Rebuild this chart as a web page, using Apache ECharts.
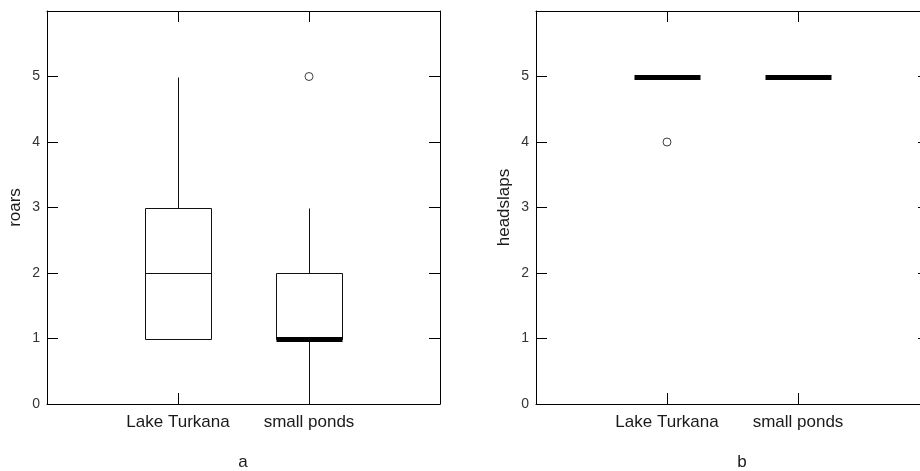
<!DOCTYPE html>
<html>
<head>
<meta charset="utf-8">
<title>roars and headslaps</title>
<script src="https://cdn.jsdelivr.net/npm/echarts@6/dist/echarts.min.js"></script>
<style>
  html, body { margin: 0; padding: 0; background: #fff; overflow: hidden; }
  /* canvas is a little wider than the page so the right frame of panel b falls just past the edge */
  #chart { width: 940px; height: 471px; }
</style>
</head>
<body>
<div id="chart"></div>
<script>
// Groups shown on the horizontal axis of both panels
const categories = ['Lake Turkana', 'small ponds'];

// Panel a: roars (five-number summaries per group)
const roarsMin    = [1, 0];
const roarsQ1     = [1, 1];
const roarsMedian = [2, 1];
const roarsQ3     = [3, 2];
const roarsMax    = [5, 3];
const roarsOutliers = [[], [5]];

// Panel b: headslaps
const headslapsMin    = [5, 5];
const headslapsQ1     = [5, 5];
const headslapsMedian = [5, 5];
const headslapsQ3     = [5, 5];
const headslapsMax    = [5, 5];
const headslapsOutliers = [[4], []];

// Vertical axis ticks
const yTicks = [0, 1, 2, 3, 4, 5];

const FONT = '"Liberation Sans", Arial, sans-serif';
const INK = '#000';
const BOX_HALF = 0.25;   // half box width, in category units

function summaryRows(mins, q1s, meds, q3s, maxs) {
  return categories.map((c, i) => [i + 1, mins[i], q1s[i], meds[i], q3s[i], maxs[i]]);
}
function outlierPoints(outs) {
  const pts = [];
  outs.forEach((list, i) => list.forEach(v => pts.push([i + 1, v])));
  return pts;
}

// Box without whisker caps; the median is drawn heavy when it sits on a hinge
function renderBox(params, api) {
  const x = api.value(0);
  const lo = api.value(1), q1 = api.value(2), med = api.value(3), q3 = api.value(4), hi = api.value(5);
  const px = v => Math.round(v) + 0.5;
  const cx = px(api.coord([x, 0])[0]);
  const xl = px(api.coord([x - BOX_HALF, 0])[0]);
  const xr = px(api.coord([x + BOX_HALF, 0])[0]);
  const y = v => px(api.coord([x, v])[1]);
  const stroke = { stroke: '#111', lineWidth: 1, fill: null };
  const children = [];
  if (hi > q3) {
    children.push({ type: 'line', shape: { x1: cx, y1: y(q3), x2: cx, y2: y(hi) }, style: stroke });
  }
  if (lo < q1) {
    children.push({ type: 'line', shape: { x1: cx, y1: y(lo), x2: cx, y2: y(q1) }, style: stroke });
  }
  if (q3 > q1) {
    children.push({ type: 'rect', shape: { x: xl, y: y(q3), width: xr - xl, height: y(q1) - y(q3) },
      style: { stroke: '#111', lineWidth: 1, fill: '#fff' } });
  }
  const heavy = (med === q1 || med === q3);
  children.push({ type: 'line', shape: { x1: xl, y1: y(med), x2: xr, y2: y(med) },
    style: { stroke: heavy ? '#000' : '#111', lineWidth: heavy ? 5 : 1 } });
  return { type: 'group', children };
}

function xAxes(gridIndex) {
  const base = {
    type: 'value', gridIndex, min: 0, max: 3, interval: 1,
    splitLine: { show: false },
    axisLine: { show: true, onZero: false, lineStyle: { color: INK, width: 1 } },
    axisTick: { show: true, inside: true, length: 11, lineStyle: { color: INK, width: 1 } }
  };
  return [
    Object.assign({}, base, {
      position: 'bottom',
      axisLabel: {
        show: true, margin: 10, color: '#1a1a1a', fontSize: 17, fontFamily: FONT,
        formatter: v => (v >= 1 && v <= categories.length) ? categories[v - 1] : ''
      }
    }),
    Object.assign({}, base, { position: 'top', axisLabel: { show: false } })
  ];
}

function yAxes(gridIndex, name) {
  const base = {
    type: 'value', gridIndex, min: 0, max: 6, interval: 1,
    splitLine: { show: false },
    axisLine: { show: true, onZero: false, lineStyle: { color: INK, width: 1 } },
    axisTick: { show: true, inside: true, length: 11, lineStyle: { color: INK, width: 1 } }
  };
  return [
    Object.assign({}, base, {
      position: 'left',
      name, nameLocation: 'middle', nameGap: 23, nameRotate: 90,
      nameTextStyle: { color: '#1a1a1a', fontSize: 17, fontFamily: FONT },
      axisLabel: {
        show: true, margin: 7, color: '#333', fontSize: 14, fontFamily: FONT,
        formatter: v => yTicks.indexOf(v) >= 0 ? String(v) : ''
      }
    }),
    Object.assign({}, base, { position: 'right', axisLabel: { show: false } })
  ];
}

function panelSeries(axisBase, rows, outs) {
  return [
    {
      type: 'custom', xAxisIndex: axisBase, yAxisIndex: axisBase,
      renderItem: renderBox, data: rows, encode: { x: 0, y: [1, 2, 3, 4, 5] },
      silent: true
    },
    {
      type: 'scatter', xAxisIndex: axisBase, yAxisIndex: axisBase,
      data: outs, symbol: 'circle', symbolSize: 8,
      itemStyle: { color: '#fff', borderColor: '#111', borderWidth: 1 },
      silent: true
    }
  ];
}

const chart = echarts.init(document.getElementById('chart'), null, { renderer: 'canvas' });
chart.setOption({
  animation: false,
  backgroundColor: '#fff',
  grid: [
    { left: 47, top: 11, width: 393, height: 393 },
    { left: 536, top: 11, width: 393, height: 393 }
  ],
  xAxis: xAxes(0).concat(xAxes(1)),
  yAxis: yAxes(0, 'roars').concat(yAxes(1, 'headslaps')),
  series: []
    .concat(panelSeries(0, summaryRows(roarsMin, roarsQ1, roarsMedian, roarsQ3, roarsMax), outlierPoints(roarsOutliers)))
    .concat(panelSeries(2, summaryRows(headslapsMin, headslapsQ1, headslapsMedian, headslapsQ3, headslapsMax), outlierPoints(headslapsOutliers))),
  graphic: [
    { type: 'text', x: 243, y: 462, style: { text: 'a', font: '17px ' + FONT, fill: '#1a1a1a', align: 'center', verticalAlign: 'middle' } },
    { type: 'text', x: 742, y: 462, style: { text: 'b', font: '17px ' + FONT, fill: '#1a1a1a', align: 'center', verticalAlign: 'middle' } }
  ]
});
</script>
</body>
</html>
